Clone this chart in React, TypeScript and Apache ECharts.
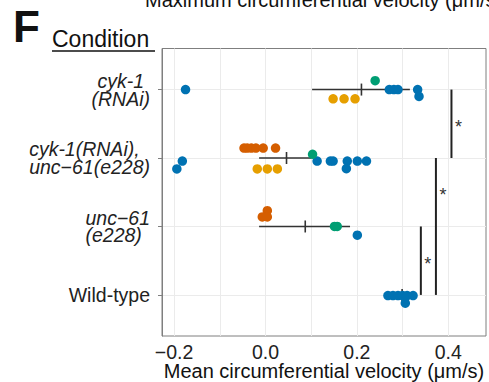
import React, { useEffect, useRef } from 'react';
import * as echarts from 'echarts';

// Category positions on the y axis (1 = bottom)
const categoryLabels: Record<number, string> = {
  1: '{n|Wild-type}',
  2: '{l|unc−61}\n{l|(e228)}',
  3: '{l|cyk-1(RNAi),}\n{l|unc−61(e228)}',
  4: '{m|cyk-1}\n{m|(RNAi)}',
};
const categoryTicks = [1, 2, 3, 4];
const xLabelTicks = [-0.2, 0, 0.2, 0.4];
const xGridTicks = [-0.2, -0.1, 0, 0.1, 0.2, 0.3, 0.4];

// Blue points
const blueVals = [-0.175, 0.271, 0.281, 0.29, 0.333, 0.336,
  -0.182, -0.194, 0.113, 0.142, 0.148, 0.179, 0.177, 0.201, 0.221,
  0.201,
  0.268, 0.279, 0.29, 0.3, 0.31, 0.323, 0.306];
const blueCats = [4, 4, 4, 4, 4, 4,
  3, 3, 3, 3, 3, 3, 3, 3, 3,
  2,
  1, 1, 1, 1, 1, 1, 1];
const blueDodge = [0, 0, 0, 0, 0, -0.1,
  -0.045, -0.16, -0.045, -0.045, -0.045, -0.045, -0.155, -0.045, -0.045,
  -0.127,
  -0.01, -0.01, -0.01, -0.01, -0.01, -0.01, -0.12];

// Orange points
const orangeVals = [0.148, 0.172, 0.196, -0.018, 0.004, 0.026];
const orangeCats = [4, 4, 4, 3, 3, 3];
const orangeDodge = [-0.135, -0.135, -0.135, -0.16, -0.16, -0.16];

// Vermillion points
const redVals = [-0.047, -0.04, -0.031, -0.021, -0.005, 0.022, 0.004, -0.007, 0.004];
const redCats = [3, 3, 3, 3, 3, 3, 2, 2, 2];
const redDodge = [0.145, 0.145, 0.145, 0.145, 0.145, 0.145, 0.23, 0.14, 0.14];

// Green points
const greenVals = [0.24, 0.103, 0.151, 0.157];
const greenCats = [4, 3, 2, 2];
const greenDodge = [0.13, 0.055, 0, 0];

// Mean and error bars
const errCats = [4, 3, 2, 1];
const errLow = [0.102, -0.014, -0.014, 0.285];
const errMean = [0.21, 0.046, 0.087, 0.299];
const errHigh = [0.316, 0.101, 0.185, 0.315];

// Significance brackets
const sigFrom = [4, 3, 2];
const sigTo = [3, 1, 1];
const sigX = [0.407, 0.373, 0.34];
const sigStarCat = [3.5, 2.5, 1.5];
const sigLabel = ['*', '*', '*'];

const FONT = '"Liberation Sans", Arial, Helvetica, sans-serif';

const pts = (vals: number[], cats: number[], dodge: number[]) =>
  vals.map((v, i) => [v, cats[i] + dodge[i]]);

export default function App() {
  const ref = useRef<HTMLDivElement>(null);
  useEffect(() => {
    if (!ref.current) return;
    const chart = echarts.init(ref.current, undefined, { renderer: 'svg' });
    const scatter = (name: string, color: string, data: number[][]) => ({
      name,
      type: 'scatter',
      data,
      symbol: 'circle',
      symbolSize: 9.5,
      itemStyle: { color, opacity: 1 },
      z: 5,
      silent: true,
    });
    const option: any = {
      animation: false,
      backgroundColor: '#ffffff',
      grid: {
        left: 162,
        right: 3,
        top: 48.5,
        bottom: 46,
        outerBoundsMode: 'none',
        containLabel: false,
        show: true,
        borderColor: '#7f7f7f',
        borderWidth: 1,
        backgroundColor: 'transparent',
      },
      xAxis: {
        type: 'value',
        min: -0.2265,
        max: 0.4826,
        axisLine: { show: false },
        axisTick: { show: false, customValues: xGridTicks },
        splitLine: { show: true, lineStyle: { color: '#ebebeb', width: 1 } },
        axisLabel: {
          customValues: xLabelTicks,
          margin: 7,
          fontSize: 19.5,
          lineHeight: 18,
          fontFamily: FONT,
          color: '#222',
          formatter: (v: number) => (v < 0 ? '−' + Math.abs(v).toFixed(1) : v.toFixed(1)),
        },
        name: 'Mean circumferential velocity (μm/s)',
        nameLocation: 'middle',
        nameGap: 25,
        nameMoveOverlap: false,
        nameTextStyle: { fontSize: 20, lineHeight: 20, fontFamily: FONT, color: '#111' },
      },
      yAxis: {
        type: 'value',
        min: 0.4,
        max: 4.6,
        axisLine: { show: true, onZero: false, lineStyle: { color: '#7f7f7f', width: 1 } },
        axisTick: { show: true, length: 4, customValues: categoryTicks, lineStyle: { color: '#7f7f7f' } },
        splitLine: { show: true, lineStyle: { color: '#ebebeb', width: 1 } },
        axisLabel: {
          customValues: categoryTicks,
          margin: 12,
          fontSize: 19.5,
          fontFamily: FONT,
          color: '#222',
          formatter: (v: number) => categoryLabels[Math.round(v)] || '',
          rich: {
            n: { fontSize: 19.5, fontFamily: FONT, color: '#222', fontStyle: 'normal', lineHeight: 18 },
            l: { fontSize: 19.5, fontFamily: FONT, color: '#222', fontStyle: 'italic', lineHeight: 17.5, align: 'left' },
            m: { fontSize: 19.5, fontFamily: FONT, color: '#222', fontStyle: 'italic', lineHeight: 18, align: 'center' },
          },
        },
      },
      graphic: [
        { type: 'text', left: 13, top: 4, style: { text: 'F', font: `bold 44px ${FONT}`, fill: '#111' } },
        { type: 'text', x: 52, y: 50, style: { text: 'Condition', font: `23px ${FONT}`, fill: '#111', verticalAlign: 'bottom' } },
        { type: 'line', shape: { x1: 52, y1: 51, x2: 155, y2: 51 }, style: { stroke: '#111', lineWidth: 1.5 } },
        { type: 'text', x: 145, y: 10, style: { text: 'Maximum circumferential velocity (μm/s)', font: `20px ${FONT}`, fill: '#111', verticalAlign: 'bottom' } },
      ],
      series: [
        {
          type: 'custom',
          name: 'mean',
          z: 3,
          silent: true,
          data: errCats.map((c, i) => [c, errLow[i], errMean[i], errHigh[i]]),
          renderItem: (params: any, api: any) => {
            const c = api.value(0);
            const p1 = api.coord([api.value(1), c]);
            const p2 = api.coord([api.value(3), c]);
            const pm = api.coord([api.value(2), c]);
            const st = { stroke: '#333', lineWidth: 1.6 };
            return {
              type: 'group',
              children: [
                { type: 'line', shape: { x1: p1[0], y1: p1[1], x2: p2[0], y2: p2[1] }, style: st },
                { type: 'line', shape: { x1: pm[0], y1: pm[1] - 6, x2: pm[0], y2: pm[1] + 6 }, style: st },
              ],
            };
          },
        },
        {
          type: 'custom',
          name: 'sig',
          z: 3,
          silent: true,
          data: sigFrom.map((f, i) => [f, sigTo[i], sigX[i], sigStarCat[i]]),
          renderItem: (params: any, api: any) => {
            const x = api.value(2);
            const a = api.coord([x, api.value(0)]);
            const b = api.coord([x, api.value(1)]);
            const s = api.coord([x, api.value(3)]);
            return {
              type: 'group',
              children: [
                { type: 'line', shape: { x1: a[0], y1: a[1], x2: b[0], y2: b[1] }, style: { stroke: '#222', lineWidth: 2 } },
                {
                  type: 'text',
                  x: s[0] + 7,
                  y: s[1] + 3,
                  style: { text: sigLabel[params.dataIndex], font: `18px ${FONT}`, fill: '#333', align: 'center', verticalAlign: 'middle' },
                },
              ],
            };
          },
        },
        scatter('blue', '#0072B2', pts(blueVals, blueCats, blueDodge)),
        scatter('orange', '#E69F00', pts(orangeVals, orangeCats, orangeDodge)),
        scatter('vermillion', '#D55E00', pts(redVals, redCats, redDodge)),
        scatter('green', '#009E73', pts(greenVals, greenCats, greenDodge)),
      ],
    };
    chart.setOption(option);
    return () => chart.dispose();
  }, []);
  return (
    <div
      ref={ref}
      style={{ position: 'absolute', left: 0, top: 0, width: 489, height: 382, background: '#fff' }}
    />
  );
}
